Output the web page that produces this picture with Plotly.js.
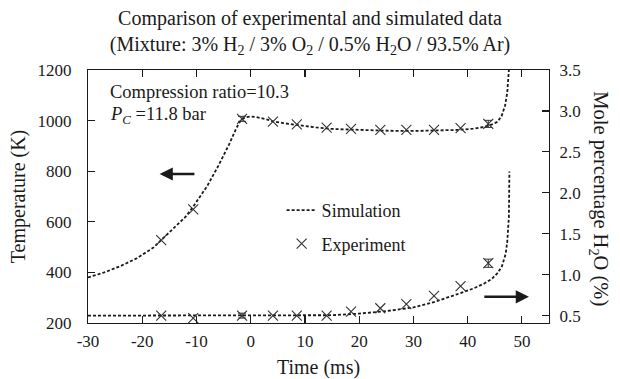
<!DOCTYPE html>
<html>
<head>
<meta charset="utf-8">
<script src="https://cdn.plot.ly/plotly-3.0.1.min.js"></script>
<style>html,body{margin:0;padding:0;background:#fff;}#chart{width:620px;height:379px;}</style>
</head>
<body>
<div id="chart"></div>
<script>
// Simulated temperature (K) vs time (ms)
const simTempTime = [-30, -27, -24, -21, -18, -16.5, -14, -12, -10.6, -10, -8, -6, -4, -2.7, -2, -1.4, -0.8, 0, 1, 2.5, 4, 6, 8, 10, 12, 15, 20, 25, 30, 35, 38, 41, 43, 44.5, 45.5, 46.3, 46.9, 47.3, 47.6];
const simTemp     = [380, 400, 425, 456, 497, 528, 578, 620, 660, 678, 742, 820, 905, 968, 995, 1008, 1014, 1016, 1014, 1007, 998, 990, 984, 978, 973, 967, 962, 960, 959, 960, 963, 968, 975, 985, 995, 1020, 1060, 1110, 1200];

// Simulated H2O mole percentage vs time (ms)
const simH2OTime = [-30, 0, 10, 15, 20, 25, 30, 34, 38, 41, 43, 44.5, 45.5, 46.3, 47, 47.3, 47.6, 47.7];
const simH2O     = [0.5, 0.5, 0.5, 0.505, 0.525, 0.555, 0.6, 0.67, 0.76, 0.83, 0.89, 0.95, 1.02, 1.1, 1.25, 1.4, 1.7, 2.26];

// Experiments
const expTime  = [-16.5, -10.6, -1.6, 4.1, 8.5, 14.0, 18.5, 23.9, 28.7, 33.8, 38.7, 43.8];
const expTemp  = [528, 649, 1007, 996, 985, 972, 967, 963, 963, 963, 970, 987];
const expTempErr = [NaN, NaN, 10, NaN, NaN, NaN, NaN, NaN, NaN, NaN, NaN, 14];
const expH2O   = [0.50, 0.47, 0.50, 0.50, 0.50, 0.50, 0.55, 0.59, 0.64, 0.74, 0.86, 1.14];
const expH2OErr = [NaN, NaN, 0.03, NaN, NaN, NaN, NaN, NaN, NaN, NaN, NaN, 0.05];

const xTicks = [-30, -20, -10, 0, 10, 20, 30, 40, 50];
const tempTicks = [200, 400, 600, 800, 1000, 1200];
const h2oTicks = [0.5, 1.0, 1.5, 2.0, 2.5, 3.0, 3.5];

const FONT = 'Liberation Serif, Times New Roman, serif';
const INK = '#1a1a1a';
const dotLine = {color: INK, width: 1.8, dash: '3px,2px'};
const xMarker = {symbol: 'x-thin', size: 10, color: '#333', line: {width: 1.1, color: '#333'}};

const traces = [
  {x: simTempTime, y: simTemp, mode: 'lines', line: dotLine, name: 'Simulation', legendgroup: 'a', showlegend: true},
  {x: simH2OTime, y: simH2O, yaxis: 'y2', mode: 'lines', line: dotLine, name: 'Simulation', legendgroup: 'a', showlegend: false},
  {x: expTime, y: expTemp, mode: 'markers', marker: xMarker, name: 'Experiment', legendgroup: 'b', showlegend: true,
   error_y: {type: 'data', array: expTempErr, visible: true, color: '#333', thickness: 1, width: 4}},
  {x: expTime, y: expH2O, yaxis: 'y2', mode: 'markers', marker: xMarker, name: 'Experiment', legendgroup: 'b', showlegend: false,
   error_y: {type: 'data', array: expH2OErr, visible: true, color: '#333', thickness: 1, width: 4}}
];

const axisCommon = {
  showgrid: false, zeroline: false, showline: true, linecolor: INK, linewidth: 1.2,
  ticks: 'inside', ticklen: 7, tickwidth: 1.2, tickcolor: INK,
  tickfont: {family: FONT, size: 17, color: INK}
};

const layout = {
  width: 620, height: 379,
  margin: {l: 88, r: 71, t: 70, b: 56},
  paper_bgcolor: '#fff', plot_bgcolor: '#fff',
  font: {family: FONT, color: INK},
  title: {
    text: 'Comparison of experimental and simulated data<br>(Mixture: 3% H<sub>2</sub> / 3% O<sub>2</sub> / 0.5% H<sub>2</sub>O / 93.5% Ar)',
    font: {family: FONT, size: 20, color: INK}, x: 0.5, xanchor: 'center', yref: 'container', y: 0.934, yanchor: 'middle'
  },
  xaxis: Object.assign({}, axisCommon, {
    range: [-30, 55], tickvals: xTicks, ticktext: xTicks.map(String), mirror: 'ticks', ticklabelstandoff: 2,
    title: {text: 'Time (ms)', font: {family: FONT, size: 20, color: INK}, standoff: 10}
  }),
  yaxis: Object.assign({}, axisCommon, {
    range: [200, 1200], tickvals: tempTicks, ticktext: tempTicks.map(String), ticklabelstandoff: 12,
    title: {text: 'Temperature (K)', font: {family: FONT, size: 20, color: INK}, standoff: 6}
  }),
  yaxis2: Object.assign({}, axisCommon, {
    overlaying: 'y', side: 'right', range: [0.41, 3.5], ticklabelstandoff: 6,
    tickvals: h2oTicks, ticktext: h2oTicks.map(v => v.toFixed(1))
  }),
  showlegend: true,
  legend: {
    x: 0.42, y: 0.518, xanchor: 'left', yanchor: 'top', bgcolor: 'rgba(0,0,0,0)',
    font: {family: FONT, size: 18, color: INK}, traceorder: 'grouped', tracegroupgap: 7
  },
  annotations: [
    {xref: 'paper', yref: 'paper', x: 0.043, y: 0.913, xanchor: 'left', yanchor: 'middle', showarrow: false,
     text: 'Compression ratio=10.3', font: {family: FONT, size: 18.5, color: INK}},
    {xref: 'paper', yref: 'paper', x: 0.043, y: 0.82, xanchor: 'left', yanchor: 'middle', showarrow: false,
     text: '<i>P<sub>C</sub></i> =11.8 bar', font: {family: FONT, size: 18.5, color: INK}},
    {xref: 'x', yref: 'y', x: -16.8, y: 789, axref: 'x', ayref: 'y', ax: -10.1, ay: 789, text: '',
     showarrow: true, arrowhead: 2, arrowsize: 1.1, arrowwidth: 2.4, arrowcolor: INK},
    {xref: 'x', yref: 'y2', x: 51.3, y: 0.73, axref: 'x', ayref: 'y2', ax: 42.8, ay: 0.73, text: '',
     showarrow: true, arrowhead: 2, arrowsize: 1.1, arrowwidth: 2.4, arrowcolor: INK},
    {xref: 'paper', yref: 'paper', x: 1.11, y: 0.49, xanchor: 'center', yanchor: 'middle', showarrow: false,
     textangle: 90, text: 'Mole percentage H<sub>2</sub>O (%)', font: {family: FONT, size: 20.5, color: INK}}
  ]
};

Plotly.newPlot('chart', traces, layout, {displayModeBar: false, staticPlot: true});
</script>
</body>
</html>
